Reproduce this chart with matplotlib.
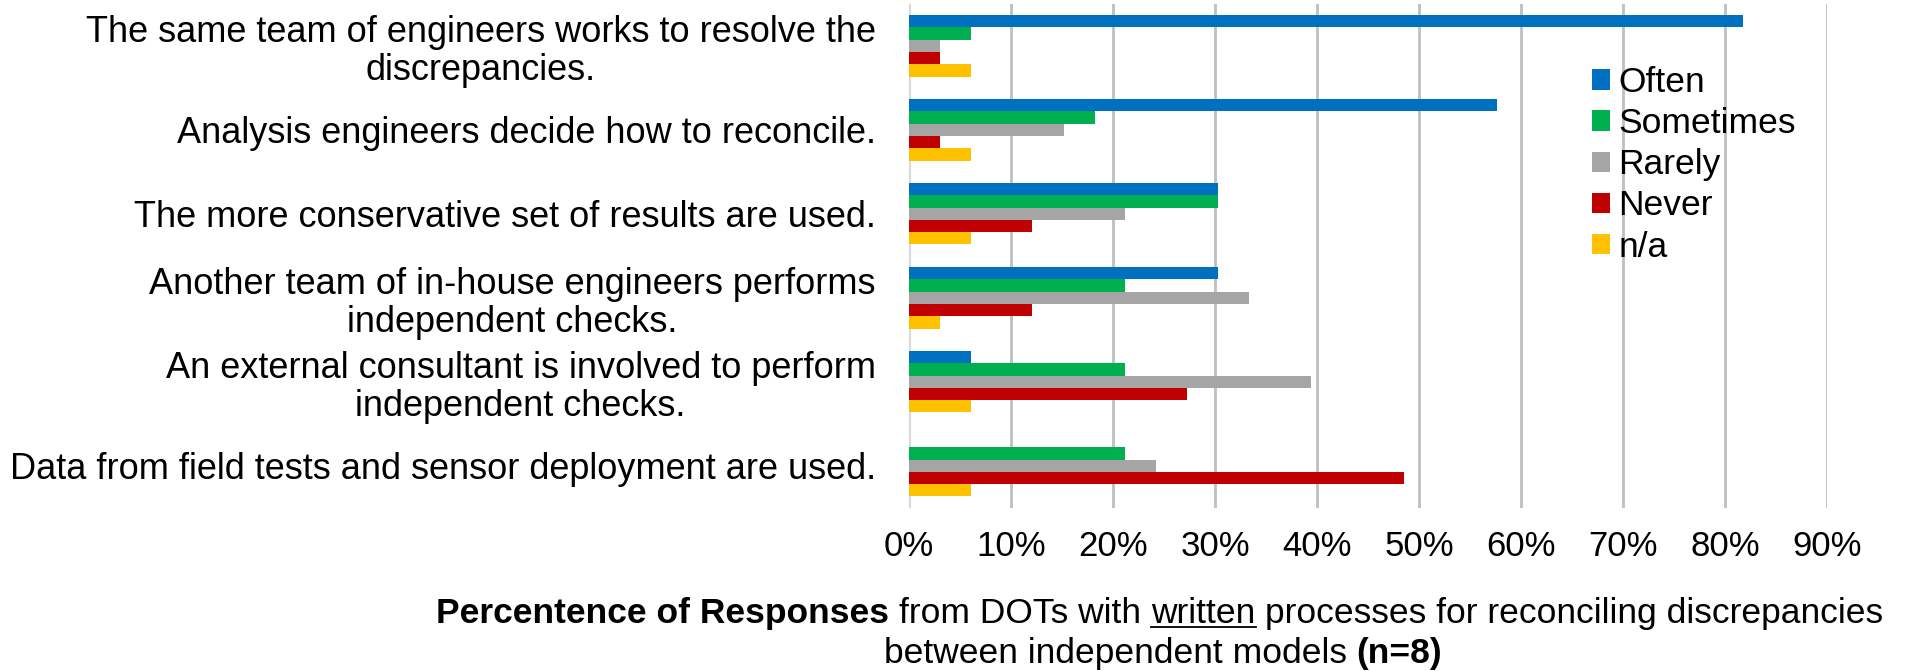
import matplotlib
matplotlib.use("Agg")
import matplotlib.pyplot as plt
from matplotlib.lines import Line2D
from matplotlib.patches import Patch
import numpy as np

plt.rcParams['font.family'] = ['Liberation Sans', 'DejaVu Sans']

categories = [
    "The same team of engineers works to resolve the\ndiscrepancies.",
    "Analysis engineers decide how to reconcile.",
    "The more conservative set of results are used.",
    "Another team of in-house engineers performs\nindependent checks.",
    "An external consultant is involved to perform\nindependent checks.",
    "Data from field tests and sensor deployment are used.",
]
series_names = ["Often", "Sometimes", "Rarely", "Never", "n/a"]
often = [81.8, 57.6, 30.3, 30.3, 6.1, 0.0]
sometimes = [6.1, 18.2, 30.3, 21.2, 21.2, 21.2]
rarely = [3.0, 15.2, 21.2, 33.3, 39.4, 24.2]
never = [3.0, 3.0, 12.1, 12.1, 27.3, 48.5]
na = [6.1, 6.1, 6.1, 3.0, 6.1, 6.1]
tick_values = [0, 10, 20, 30, 40, 50, 60, 70, 80, 90]
tick_labels = [f"{v}%" for v in tick_values]

colors = ["#0070C0", "#00B050", "#A5A5A5", "#C00000", "#FFC000"]
series = [often, sometimes, rarely, never, na]

W, H = 1911, 671
fig = plt.figure(figsize=(W / 100, H / 100), dpi=100)
ax_left, ax_right = 909, 1827
ax_top, ax_bot = 3.75, 507.75
ax = fig.add_axes([ax_left / W, 1 - ax_bot / H, (ax_right - ax_left) / W, (ax_bot - ax_top) / H])

n_cat = len(categories)
bar_h = 12.3 / 84.0
y_centers = np.arange(n_cat)
for i, (vals, col) in enumerate(zip(series, colors)):
    offs = (i - 2) * bar_h
    ax.barh(y_centers + offs, vals, height=bar_h, color=col, edgecolor='none', zorder=3)

ax.set_ylim(n_cat - 0.5, -0.5)
ax.set_xlim(0, 90)
ax.set_xticks(tick_values)
ax.set_xticklabels(tick_labels, fontsize=25)
ax.set_yticks(y_centers)
ax.set_yticklabels(categories, fontsize=26, multialignment='center', linespacing=1.12)
ax.tick_params(axis='x', length=0, pad=16)
ax.tick_params(axis='y', length=0, pad=24)
for s in ax.spines.values():
    s.set_visible(False)
for v in tick_values[1:]:
    ax.axvline(v, color="#BFBFBF", lw=2.0, zorder=1)
ax.axvline(0, color="#D9D9D9", lw=2.2, zorder=2)

handles = [Patch(facecolor=c, edgecolor='none') for c in colors]
leg = fig.legend(handles, series_names, loc='upper left',
                 bbox_to_anchor=(1592 / W, 1 - 66 / H), frameon=False,
                 fontsize=25.5, handlelength=0.5, handleheight=0.5,
                 handletextpad=0.25, labelspacing=0.23, borderpad=0, borderaxespad=0)

# rich-text x label
renderer = fig.canvas.get_renderer()
fs = 25.5

def measure(txt, weight):
    t = fig.text(0, 0, txt, fontsize=fs, fontweight=weight)
    bb = t.get_window_extent(renderer)
    t.remove()
    return bb.width

space_w = measure("a a", 'normal') - measure("aa", 'normal')

def rich_line(parts, xc, ybase):
    widths = []
    for txt, weight, ul in parts:
        if txt == " ":
            widths.append(space_w)
        else:
            widths.append(measure(txt, weight))
    total = sum(widths)
    x = xc - total / 2
    for (txt, weight, ul), w in zip(parts, widths):
        if txt != " ":
            fig.text(x / W, 1 - ybase / H, txt, fontsize=fs, fontweight=weight,
                     va='baseline', ha='left')
            if ul:
                fig.add_artist(Line2D([x / W, (x + w) / W], [1 - (ybase + 4) / H] * 2,
                                      color='black', lw=1.3))
        x += w

rich_line([("Percentence of Responses", 'bold', False), (" ", 'normal', False),
           ("from DOTs with", 'normal', False), (" ", 'normal', False),
           ("written", 'normal', True), (" ", 'normal', False),
           ("processes for reconciling discrepancies", 'normal', False)], 1160, 623)
rich_line([("between independent models", 'normal', False), (" ", 'normal', False),
           ("(n=8)", 'bold', False)], 1163, 663)

fig.savefig("out.png", dpi=100)
